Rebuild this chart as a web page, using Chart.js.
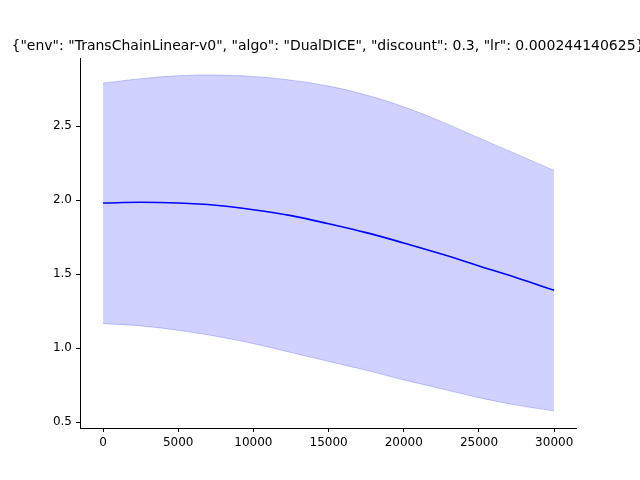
<!DOCTYPE html>
<html>
<head>
<meta charset="utf-8">
<script src="https://cdn.jsdelivr.net/npm/chart.js@4"></script>
<style>
  html, body { margin: 0; padding: 0; background: #fff; }
  #wrap { width: 640px; height: 480px; }
</style>
</head>
<body>
<div id="wrap"><canvas id="chart" width="640" height="480"></canvas></div>
<script>
const steps = [0, 2500, 5000, 7500, 10000, 12500, 15000, 17500, 20000, 22500, 25000, 27500, 30000];
const meanValues = [1.98, 1.985, 1.98, 1.965, 1.935, 1.895, 1.84, 1.78, 1.71, 1.635, 1.555, 1.475, 1.39];
const upperValues = [2.79, 2.82, 2.84, 2.845, 2.835, 2.81, 2.77, 2.71, 2.63, 2.53, 2.42, 2.31, 2.20];
const lowerValues = [1.165, 1.15, 1.12, 1.08, 1.03, 0.97, 0.91, 0.85, 0.785, 0.725, 0.665, 0.615, 0.575];
const titleText = '{"env": "TransChainLinear-v0", "algo": "DualDICE", "discount": 0.3, "lr": 0.000244140625}';

const toPoints = vals => steps.map((s, i) => ({ x: s, y: vals[i] }));
const font = { family: "DejaVu Sans", size: 12 };

const titlePlugin = {
  id: "wideTitle",
  afterDraw(chart) {
    const ctx = chart.ctx;
    ctx.save();
    ctx.font = "14px 'DejaVu Sans'";
    ctx.fillStyle = "#000";
    ctx.textAlign = "center";
    ctx.textBaseline = "alphabetic";
    ctx.fillText(titleText, (chart.chartArea.left + chart.chartArea.right) / 2, 50);
    ctx.restore();
  }
};

new Chart(document.getElementById("chart"), {
  type: "line",
  data: {
    datasets: [
      {
        data: toPoints(upperValues),
        borderColor: "rgba(0,0,255,0.2)",
        backgroundColor: "rgba(0,0,255,0.18)",
        borderWidth: 1,
        pointRadius: 0,
        tension: 0.4,
        fill: "+1",
      },
      {
        data: toPoints(lowerValues),
        borderColor: "rgba(0,0,255,0.2)",
        borderWidth: 1,
        pointRadius: 0,
        tension: 0.4,
        fill: false,
      },
      {
        data: toPoints(meanValues),
        borderColor: "#0000ff",
        borderWidth: 1.6,
        pointRadius: 0,
        tension: 0.4,
        fill: false,
      },
    ],
  },
  options: {
    responsive: false,
    animation: false,
    layout: { padding: { top: 58, right: 64, left: 0, bottom: 0 } },
    plugins: { legend: { display: false }, tooltip: { enabled: false } },
    scales: {
      x: {
        type: "linear",
        min: -1530,
        max: 31450,
        afterFit: s => { s.height = 52; },
        afterBuildTicks: s => { s.ticks = [0, 5000, 10000, 15000, 20000, 25000, 30000].map(v => ({ value: v })); },
        ticks: { color: "#000", font, maxRotation: 0, padding: 4, callback: v => String(v) },
        grid: { drawOnChartArea: false, tickLength: 4, color: "#000" },
        border: { color: "#000" },
      },
      y: {
        min: 0.46,
        max: 2.96,
        afterFit: s => { s.width = 80; },
        afterBuildTicks: s => { s.ticks = [0.5, 1.0, 1.5, 2.0, 2.5].map(v => ({ value: v })); },
        ticks: { color: "#000", font, padding: 4, callback: v => v.toFixed(1) },
        grid: { drawOnChartArea: false, tickLength: 4, color: "#000" },
        border: { color: "#000" },
      },
    },
  },
  plugins: [titlePlugin],
});
</script>
</body>
</html>
